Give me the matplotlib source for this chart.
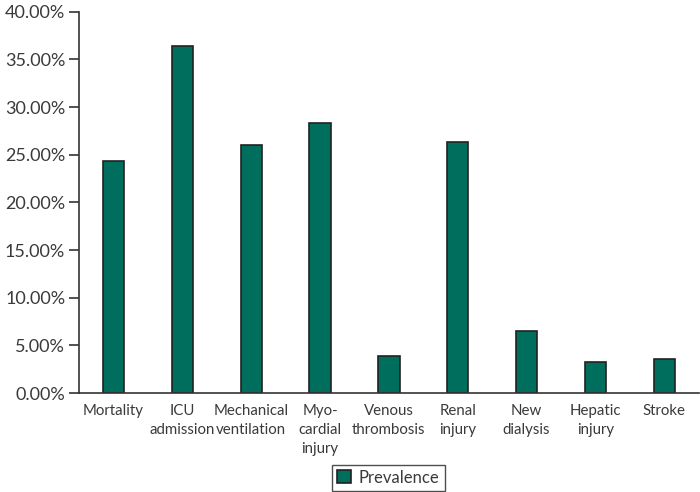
import matplotlib
matplotlib.use("Agg")
import matplotlib.pyplot as plt
from matplotlib.ticker import FuncFormatter

# Data
categories = ["Mortality", "ICU\nadmission", "Mechanical\nventilation", "Myo-\ncardial\ninjury",
              "Venous\nthrombosis", "Renal\ninjury", "New\ndialysis", "Hepatic\ninjury", "Stroke"]
prevalence = [24.3, 36.4, 26.0, 28.3, 3.9, 26.3, 6.5, 3.25, 3.55]
y_ticks = [0, 5, 10, 15, 20, 25, 30, 35, 40]

plt.rcParams['font.family'] = ['Lato', 'DejaVu Sans']
text_color = '#3a3a3a'

fig = plt.figure(figsize=(7, 4.92), dpi=100)
ax = fig.add_axes([0.113, 0.201, 0.885, 0.775])

x = range(len(categories))
ax.bar(x, prevalence, width=0.31, color='#006e5c', edgecolor='#222222', linewidth=1.2,
       label='Prevalence')

ax.set_ylim(0, 40)
ax.set_xlim(-0.5, len(categories) - 0.5)
ax.set_yticks(y_ticks)
ax.yaxis.set_major_formatter(FuncFormatter(lambda v, p: f"{v:.2f}%"))
ax.set_xticks(list(x))
ax.set_xticklabels(categories, fontsize=10.8, color=text_color, linespacing=1.45)
ax.tick_params(axis='y', labelsize=13, labelcolor=text_color, length=7, width=1.2,
               color='#333333', pad=3)
ax.tick_params(axis='x', length=0, pad=8)

for s in ['top', 'right']:
    ax.spines[s].set_visible(False)
for s in ['left', 'bottom']:
    ax.spines[s].set_color('#333333')
    ax.spines[s].set_linewidth(1.2)

leg = fig.legend(loc='lower center', bbox_to_anchor=(0.555, -0.014), fontsize=12,
                 frameon=True, fancybox=False, edgecolor='#222222', handlelength=0.8,
                 handleheight=0.8, handletextpad=0.5, borderpad=0.3)
leg.get_frame().set_linewidth(1.0)
for t in leg.get_texts():
    t.set_color(text_color)

fig.savefig("out.png", dpi=100)
